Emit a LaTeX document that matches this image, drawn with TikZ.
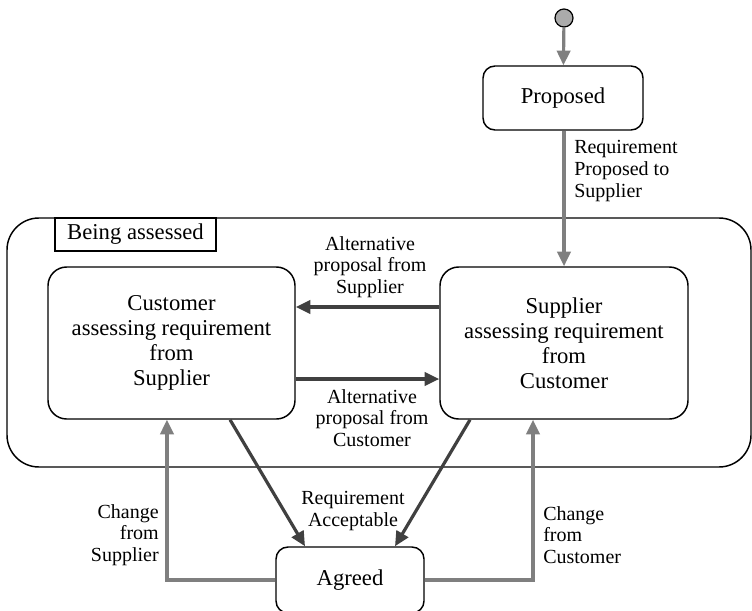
\documentclass[tikz,border=0pt]{standalone}
\usepackage{fontspec}
\setmainfont{Liberation Serif}
\usetikzlibrary{arrows.meta,calc}
\definecolor{lgray}{HTML}{7F7F7F}
\definecolor{dgray}{HTML}{404040}
\definecolor{cfill}{HTML}{ABABAB}
\tikzset{
  statebox/.style={draw=black, line width=1.1pt, rounded corners=14pt, fill=white, align=center,
    font=\fontsize{17}{18.8}\selectfont, inner sep=0pt},
  lbl/.style={font=\fontsize{15}{16.3}\selectfont, inner sep=0pt},
  garrow/.style={draw=lgray, line width=2.4pt, -{Triangle[length=11pt,width=10pt]}},
  darrow/.style={draw=dgray, line width=2.4pt, -{Triangle[length=11pt,width=10pt]}},
}
\begin{document}
\begin{tikzpicture}[x=0.75pt,y=-0.75pt]
\useasboundingbox (0,0) rectangle (752,610);
\clip (0,0) rectangle (752,610);
% container
\node[draw=black, line width=1.1pt, rounded corners=24pt, minimum width=558pt, minimum height=186.75pt, inner sep=0pt] (cont) at (379,342.5) {};
\node[draw=black, line width=1.1pt, fill=white, minimum width=120.75pt, minimum height=24.75pt, inner sep=0pt,
  font=\fontsize{17}{18.8}\selectfont] (title) at (135.5,234.5) {Being assessed};
% states
\node[draw=black, line width=0.9pt, fill=cfill, circle, minimum size=13.5pt, inner sep=0pt] (init) at (564,18) {};
\node[statebox, rounded corners=9pt, minimum width=120pt, minimum height=48pt] (prop) at (563,98) {Proposed};
\node[statebox, minimum width=185.25pt, minimum height=114pt] (cust) at (171.5,343)
  {Customer\\assessing requirement\\from\\Supplier};
\node[statebox, minimum width=186pt, minimum height=114pt] (sup) at (564,343)
  {Supplier\\assessing requirement\\from\\Customer};
\node[statebox, rounded corners=9pt, minimum width=111pt, minimum height=49.5pt] (agr) at (350,580) {Agreed};
% connectors
\draw[garrow] (init) -- (prop);
\draw[garrow] (prop.south -| sup.north) -- (sup.north);
\draw[darrow] ([yshift=27pt]sup.west) -- ([yshift=27pt]cust.east);
\draw[darrow] ([yshift=-27pt]cust.east) -- ([yshift=-27pt]sup.west);
\draw[darrow] ([xshift=43.9pt]cust.south) -- ([xshift=-33.75pt]agr.north);
\draw[darrow] ([xshift=-70.5pt]sup.south) -- ([xshift=33.75pt]agr.north);
\coordinate (cl) at ([xshift=-3.4pt]cust.south);
\coordinate (sr) at ([xshift=-23.25pt]sup.south);
\draw[garrow] (agr.west) -| (cl);
\draw[garrow] (agr.east) -| (sr);
% labels
\node[lbl, align=left, anchor=west] (l1) at (574,171) {Requirement\\Proposed to\\Supplier};
\node[lbl, align=center] (l2) at (370,267) {Alternative\\proposal from\\Supplier};
\node[lbl, align=center] (l3) at (372,418) {Alternative\\proposal from\\Customer};
\node[lbl, align=center] (l4) at (353,511) {Requirement\\Acceptable};
\node[lbl, align=right, anchor=east] (l5) at (159,535) {Change\\from\\Supplier};
\node[lbl, align=left, anchor=west] (l6) at (543,535) {Change\\from\\Customer};
\end{tikzpicture}
\end{document}
